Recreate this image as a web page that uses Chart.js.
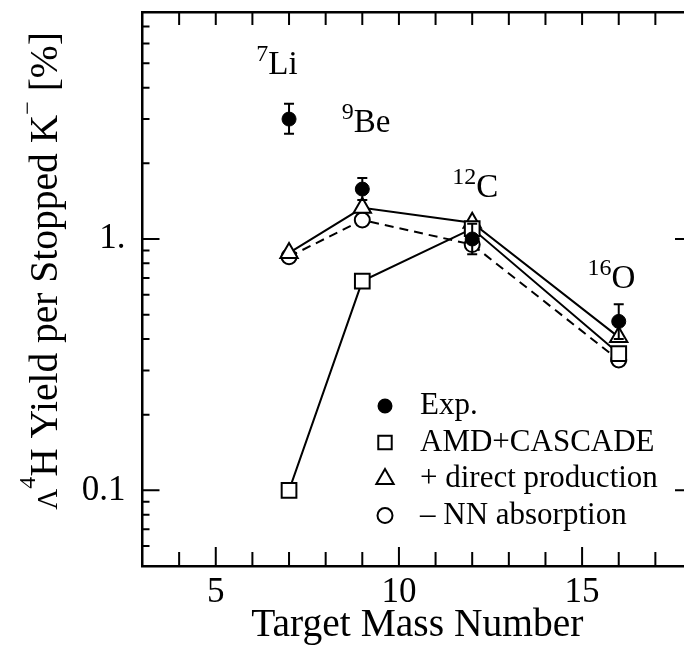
<!DOCTYPE html>
<html>
<head>
<meta charset="utf-8">
<script src="https://cdn.jsdelivr.net/npm/chart.js@4.4.1/dist/chart.umd.min.js"></script>
<style>
  html, body { margin: 0; padding: 0; background: #fff; overflow: hidden; }
  #wrap { width: 684px; height: 645px; overflow: hidden; }
</style>
</head>
<body>
<div id="wrap"><canvas id="yieldChart" width="696" height="645"></canvas></div>
<script>
// target mass numbers and yields [%]
const targetMass = [7, 9, 12, 16];
const expYield = [3.0, 1.58, 1.0, 0.47];
const expErrLow = [2.62, 1.43, 0.87, 0.4];
const expErrHigh = [3.45, 1.75, 1.15, 0.55];
const amdCascade = [0.1, 0.68, 1.1, 0.35];
const directProd = [0.88, 1.33, 1.16, 0.407];
const nnAbsorption = [0.85, 1.19, 0.95, 0.33];

const isotopeMass = ["7", "9", "12", "16"];
const isotopeSymbol = ["Li", "Be", "C", "O"];
const seriesNames = ["Exp.", "AMD+CASCADE", "+ direct production", "– NN absorption"];

const xTicks = [3, 4, 5, 6, 7, 8, 9, 10, 11, 12, 13, 14, 15, 16, 17, 18];
const xMajor = [5, 10, 15];
const xTickLabels = { 5: "5", 10: "10", 15: "15" };
const yTicks = [0.05, 0.06, 0.07, 0.08, 0.09, 0.1, 0.2, 0.3, 0.4, 0.5, 0.6, 0.7, 0.8, 0.9, 1, 2, 3, 4, 5, 6, 7, 8];
const yMajor = [0.1, 1];
const yTickLabels = { "0.1": "0.1", "1": "1." };

const FONT = "'Liberation Serif', 'Times New Roman', serif";

const toPoints = (vals) => targetMass.map((m, i) => ({ x: m, y: vals[i] }));

// fixed axis box sizes, no label overhang padding
const fixSize = (w, h) => (s) => {
  if (w !== null) s.width = w;
  if (h !== null) s.height = h;
  s.paddingLeft = 0;
  s.paddingRight = 0;
  s.paddingTop = 0;
  s.paddingBottom = 0;
};

// inward tick marks on all four sides
const tickMarks = {
  id: "tickMarks",
  afterDraw(chart) {
    const { ctx, chartArea: a, scales } = chart;
    ctx.save();
    ctx.strokeStyle = "#000";
    ctx.lineWidth = 2;
    ctx.beginPath();
    xTicks.forEach((v) => {
      if (v <= 3 || v >= 18) return;
      const px = scales.x.getPixelForValue(v);
      const len = xMajor.includes(v) ? 19 : 14;
      ctx.moveTo(px, a.bottom);
      ctx.lineTo(px, a.bottom - len);
      ctx.moveTo(px, a.top);
      ctx.lineTo(px, a.top + 13);
    });
    yTicks.forEach((v) => {
      if (v <= 0.05 || v >= 8) return;
      const py = scales.y.getPixelForValue(v);
      const len = yMajor.includes(v) ? 17 : 7;
      ctx.moveTo(a.left, py);
      ctx.lineTo(a.left + len, py);
      ctx.moveTo(a.right, py);
      ctx.lineTo(a.right - len, py);
    });
    ctx.stroke();
    ctx.restore();
  },
};

// vertical error bars for the experimental points
const errorBars = {
  id: "errorBars",
  afterDatasetsDraw(chart) {
    const { ctx, scales } = chart;
    ctx.save();
    ctx.strokeStyle = "#000";
    ctx.lineWidth = 2;
    ctx.beginPath();
    targetMass.forEach((m, i) => {
      const px = scales.x.getPixelForValue(m);
      const top = scales.y.getPixelForValue(expErrHigh[i]);
      const bot = scales.y.getPixelForValue(expErrLow[i]);
      ctx.moveTo(px, top);
      ctx.lineTo(px, bot);
      ctx.moveTo(px - 5, top);
      ctx.lineTo(px + 5, top);
      ctx.moveTo(px - 5, bot);
      ctx.lineTo(px + 5, bot);
    });
    ctx.stroke();
    ctx.restore();
  },
};

// draws runs of text with super/subscript offsets; returns width
function drawRuns(ctx, runs, x, y, measureOnly) {
  let w = 0;
  runs.forEach((r) => {
    ctx.font = r.size + "px " + FONT;
    if (!measureOnly) ctx.fillText(r.text, x + w, y - (r.rise || 0));
    w += ctx.measureText(r.text).width;
  });
  return w;
}

// isotope labels, legend and y title
const annotations = {
  id: "annotations",
  afterDraw(chart) {
    const { ctx, scales } = chart;
    const labelAt = [
      [6.67, 4.53],
      [9.1, 2.66],
      [12.08, 1.47],
      [15.8, 0.64],
    ];
    ctx.save();
    ctx.fillStyle = "#000";
    ctx.textBaseline = "alphabetic";
    ctx.textAlign = "left";
    isotopeMass.forEach((mass, i) => {
      const runs = [
        { text: mass, size: 24, rise: 13 },
        { text: isotopeSymbol[i], size: 33 },
      ];
      const w = drawRuns(ctx, runs, 0, 0, true);
      const cx = scales.x.getPixelForValue(labelAt[i][0]);
      const by = scales.y.getPixelForValue(labelAt[i][1]);
      drawRuns(ctx, runs, cx - w / 2, by, false);
    });

    // legend
    const styles = [
      { pointStyle: "circle", radius: 6.5, fill: "#000" },
      { pointStyle: "rect", radius: 9.5, fill: "#fff" },
      { pointStyle: "triangle", radius: 10, fill: "#fff" },
      { pointStyle: "circle", radius: 7.5, fill: "#fff" },
    ];
    seriesNames.forEach((name, i) => {
      const y = 406 + i * 36.5;
      ctx.fillStyle = styles[i].fill;
      ctx.strokeStyle = "#000";
      ctx.lineWidth = 2;
      Chart.helpers.drawPoint(ctx, { pointStyle: styles[i].pointStyle, radius: styles[i].radius, rotation: 0, borderWidth: 2 }, 385, y);
      ctx.fillStyle = "#000";
      ctx.font = "31px " + FONT;
      ctx.textBaseline = "middle";
      ctx.fillText(name, 420, y);
    });

    // y axis title
    ctx.textBaseline = "alphabetic";
    const titleRuns = [
      { text: "Λ", size: 29 },
      { text: "4", size: 24, rise: 22 },
      { text: "H Yield per Stopped K", size: 39.5 },
      { text: "−", size: 24, rise: 22 },
      { text: " [%]", size: 39.5 },
    ];
    const tw = drawRuns(ctx, titleRuns, 0, 0, true);
    ctx.translate(57, 271);
    ctx.rotate(-Math.PI / 2);
    drawRuns(ctx, titleRuns, -tw / 2, 0, false);
    ctx.restore();
  },
};

const axisBorder = { display: true, color: "#000", width: 2.5 };

new Chart(document.getElementById("yieldChart"), {
  type: "scatter",
  data: {
    datasets: [
      {
        label: seriesNames[0],
        data: toPoints(expYield),
        showLine: false,
        pointStyle: "circle",
        pointRadius: 7,
        pointBackgroundColor: "#000",
        pointBorderColor: "#000",
        pointBorderWidth: 1,
      },
      {
        label: seriesNames[1],
        data: toPoints(amdCascade),
        showLine: true,
        borderColor: "#000",
        borderWidth: 2,
        pointStyle: "rect",
        pointRadius: 10.4,
        pointBackgroundColor: "#fff",
        pointBorderColor: "#000",
        pointBorderWidth: 2,
      },
      {
        label: seriesNames[2],
        data: toPoints(directProd),
        showLine: true,
        borderColor: "#000",
        borderWidth: 2,
        pointStyle: "triangle",
        pointRadius: 10,
        pointBackgroundColor: "#fff",
        pointBorderColor: "#000",
        pointBorderWidth: 2,
      },
      {
        label: seriesNames[3],
        data: toPoints(nnAbsorption),
        showLine: true,
        borderColor: "#000",
        borderWidth: 2,
        borderDash: [9, 6],
        pointStyle: "circle",
        pointRadius: 7.5,
        pointBackgroundColor: "#fff",
        pointBorderColor: "#000",
        pointBorderWidth: 2,
      },
    ],
  },
  options: {
    responsive: false,
    animation: false,
    layout: { padding: 0, autoPadding: false },
    plugins: {
      legend: { display: false },
      tooltip: { enabled: false },
    },
    scales: {
      x: {
        type: "linear",
        position: "bottom",
        min: 3,
        max: 18,
        afterBuildTicks: (s) => { s.ticks = xTicks.map((v) => ({ value: v })); },
        afterFit: fixSize(null, 79),
        grid: { display: false },
        border: axisBorder,
        ticks: {
          autoSkip: false,
          maxRotation: 0,
          padding: 1.5,
          color: "#000",
          font: { family: FONT, size: 35, lineHeight: 1 },
          callback: (v) => xTickLabels[v] || "",
        },
        title: {
          display: true,
          text: "Target Mass Number",
          color: "#000",
          padding: 0,
          font: { family: FONT, size: 39.5, lineHeight: 1 },
        },
      },
      x2: {
        type: "linear",
        position: "top",
        min: 3,
        max: 18,
        afterFit: fixSize(null, 12),
        grid: { display: false },
        border: axisBorder,
        ticks: { display: false },
      },
      y: {
        type: "logarithmic",
        position: "left",
        min: 0.05,
        max: 8,
        afterBuildTicks: (s) => { s.ticks = yTicks.map((v) => ({ value: v })); },
        afterFit: fixSize(142.5, null),
        grid: { display: false },
        border: axisBorder,
        ticks: {
          autoSkip: false,
          padding: 9,
          color: "#000",
          font: { family: FONT, size: 35, lineHeight: 1 },
          callback: (v) => yTickLabels[String(v)] || "",
        },
      },
      y2: {
        type: "logarithmic",
        position: "right",
        min: 0.05,
        max: 8,
        afterFit: fixSize(4, null),
        grid: { display: false },
        border: axisBorder,
        ticks: { display: false },
      },
    },
  },
  plugins: [tickMarks, errorBars, annotations],
});
</script>
</body>
</html>
